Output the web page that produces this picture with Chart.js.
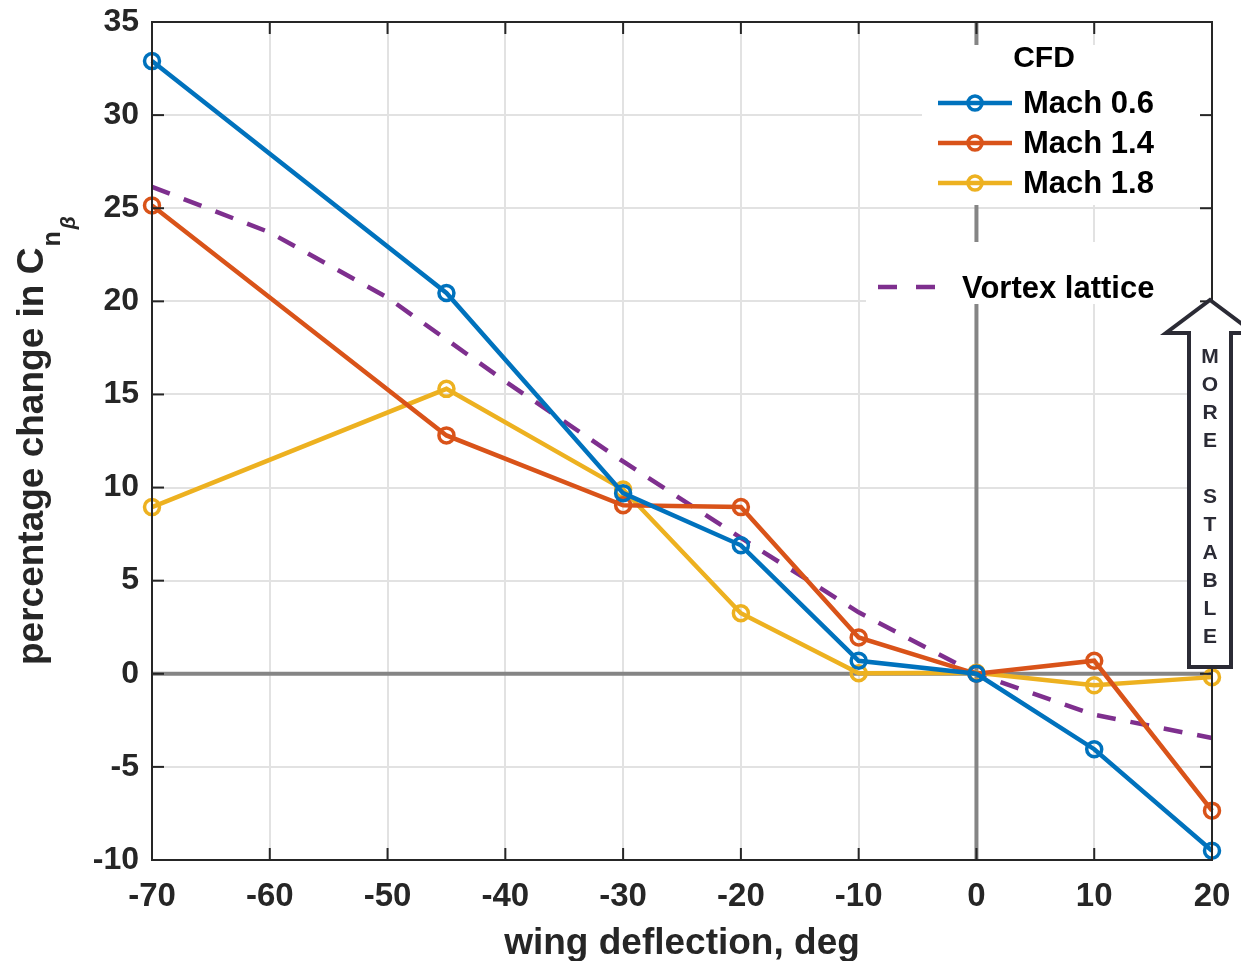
<!DOCTYPE html>
<html>
<head>
<meta charset="utf-8">
<script src="https://cdn.jsdelivr.net/npm/chart.js@4.4.1/dist/chart.umd.min.js"></script>
<style>
  html, body { margin: 0; padding: 0; background: #fff; }
  #wrap { width: 1241px; height: 961px; }
</style>
</head>
<body>
<div id="wrap"><canvas id="chartDeflection" width="1241" height="961"></canvas></div>
<script>
// CFD runs, wing deflection in deg
const deflection = [-70, -45, -30, -20, -10, 0, 10, 20];
const mach06 = [32.9, 20.45, 9.7, 6.9, 0.7, 0, -4.05, -9.5];
const mach14 = [25.15, 12.8, 9.05, 8.95, 1.95, 0, 0.7, -7.35];
const mach18 = [8.95, 15.3, 9.9, 3.25, 0.03, 0.05, -0.62, -0.18];

// vortex lattice prediction
const vlmDeflection = [-70, -60, -50, -40, -30, -20, -10, 0, 10, 20];
const vortexLattice = [26.15, 23.7, 20.2, 15.7, 11.4, 7.3, 3.3, 0, -2.2, -3.45];

const xTicks = [-70, -60, -50, -40, -30, -20, -10, 0, 10, 20];
const yTicks = [-10, -5, 0, 5, 10, 15, 20, 25, 30, 35];

const FONT = "'Liberation Sans', Arial, Helvetica, sans-serif";
const INK = "#262626";

function points(xs, ys) {
  return xs.map((x, i) => ({ x: x, y: ys[i] }));
}

function cfdSeries(label, values, color) {
  return {
    label: label,
    data: points(deflection, values),
    borderColor: color,
    backgroundColor: color,
    borderWidth: 4.5,
    pointRadius: 7.5,
    pointBorderWidth: 3.5,
    pointBackgroundColor: "rgba(0,0,0,0)",
    pointBorderColor: color,
    tension: 0,
    clip: false,
  };
}

const dataDeflection = {
  datasets: [
    cfdSeries("Mach 0.6", mach06, "#0072BD"),
    cfdSeries("Mach 1.4", mach14, "#D95319"),
    cfdSeries("Mach 1.8", mach18, "#EDB120"),
    {
      label: "Vortex lattice",
      data: points(vlmDeflection, vortexLattice),
      borderColor: "#7E2F8E",
      borderWidth: 4.5,
      borderDash: [19, 15],
      pointRadius: 0,
      tension: 0,
      clip: false,
    },
  ],
};

function strokeLine(ctx, x1, y1, x2, y2) {
  ctx.beginPath();
  ctx.moveTo(x1, y1);
  ctx.lineTo(x2, y2);
  ctx.stroke();
}

// gray zero lines under the data
const zeroLines = {
  id: "zeroLines",
  beforeDatasetsDraw(chart) {
    const { ctx, chartArea: a, scales } = chart;
    const x0 = scales.x.getPixelForValue(0);
    const y0 = scales.y.getPixelForValue(0);
    ctx.save();
    ctx.strokeStyle = "#858585";
    ctx.lineWidth = 4;
    strokeLine(ctx, a.left, y0, a.right, y0);
    strokeLine(ctx, x0, a.top, x0, a.bottom);
    ctx.restore();
  },
};

// legends, axes box with inward ticks, and the stability arrow
const overlay = {
  id: "overlay",
  afterDatasetsDraw(chart) {
    const { ctx, chartArea: a, scales } = chart;
    const ds = chart.data.datasets;
    ctx.save();

    // legend backgrounds
    ctx.fillStyle = "#fff";
    ctx.fillRect(922, 45, 288, 160);
    ctx.fillRect(866, 242, 344, 62);

    // axes box
    ctx.strokeStyle = INK;
    ctx.lineWidth = 2;
    ctx.strokeRect(a.left, a.top, a.right - a.left, a.bottom - a.top);
    const tl = 12;
    scales.x.ticks.forEach((t) => {
      const px = scales.x.getPixelForValue(t.value);
      strokeLine(ctx, px, a.bottom, px, a.bottom - tl);
      strokeLine(ctx, px, a.top, px, a.top + tl);
    });
    scales.y.ticks.forEach((t) => {
      const py = scales.y.getPixelForValue(t.value);
      strokeLine(ctx, a.left, py, a.left + tl, py);
      strokeLine(ctx, a.right, py, a.right - tl, py);
    });

    // CFD legend
    ctx.fillStyle = "#000";
    ctx.textAlign = "center";
    ctx.textBaseline = "alphabetic";
    ctx.font = "bold 30px " + FONT;
    ctx.fillText("CFD", 1044, 67);
    ctx.font = "bold 31px " + FONT;
    ctx.textAlign = "left";
    for (let i = 0; i < 3; i++) {
      const y = 103 + i * 40;
      const d = ds[i];
      ctx.strokeStyle = d.borderColor;
      ctx.lineWidth = 4.5;
      strokeLine(ctx, 938, y, 1012, y);
      ctx.lineWidth = 3.5;
      ctx.beginPath();
      ctx.arc(975, y, 7, 0, Math.PI * 2);
      ctx.stroke();
      ctx.fillStyle = "#000";
      ctx.fillText(d.label, 1023, y + 10);
    }

    // vortex lattice legend
    const v = ds[3];
    ctx.strokeStyle = v.borderColor;
    ctx.lineWidth = 4.5;
    ctx.setLineDash([19, 19]);
    strokeLine(ctx, 878, 287, 938, 287);
    ctx.setLineDash([]);
    ctx.fillText(v.label, 962, 298);

    // "more stable" arrow
    ctx.beginPath();
    ctx.moveTo(1210, 300);
    ctx.lineTo(1254, 333);
    ctx.lineTo(1231, 333);
    ctx.lineTo(1231, 667);
    ctx.lineTo(1189, 667);
    ctx.lineTo(1189, 333);
    ctx.lineTo(1166, 333);
    ctx.closePath();
    ctx.fillStyle = "#fff";
    ctx.fill();
    ctx.strokeStyle = "#2b2b35";
    ctx.lineWidth = 4;
    ctx.lineJoin = "miter";
    ctx.stroke();
    ctx.fillStyle = "#2b2b35";
    ctx.font = "bold 21px " + FONT;
    ctx.textAlign = "center";
    ctx.textBaseline = "middle";
    const word = "MORE STABLE";
    for (let i = 0; i < word.length; i++) {
      if (word[i] !== " ") ctx.fillText(word[i], 1210, 357 + i * 28);
    }
    ctx.restore();
  },
  afterDraw(chart) {
    // y axis title with subscripts
    const ctx = chart.ctx;
    ctx.save();
    ctx.translate(43, 665);
    ctx.rotate(-Math.PI / 2);
    ctx.fillStyle = INK;
    ctx.textAlign = "left";
    ctx.textBaseline = "alphabetic";
    ctx.font = "bold 37px " + FONT;
    const main = "percentage change in C";
    ctx.fillText(main, 0, 0);
    const w = ctx.measureText(main).width;
    ctx.font = "bold 25px " + FONT;
    ctx.fillText("n", w + 1, 17);
    const wn = ctx.measureText("n").width;
    ctx.font = "italic bold 21px " + FONT;
    ctx.fillText("\u03B2", w + wn + 3, 32);
    ctx.restore();
  },
};

const configDeflection = {
  type: "line",
  data: dataDeflection,
  options: {
    responsive: false,
    animation: false,
    devicePixelRatio: 1,
    layout: { padding: { top: 22, right: 29, bottom: 0, left: 0 } },
    plugins: {
      legend: { display: false },
      tooltip: { enabled: false },
    },
    scales: {
      x: {
        type: "linear",
        min: -70,
        max: 20,
        afterBuildTicks: (s) => { s.ticks = xTicks.map((v) => ({ value: v })); },
        afterFit: (s) => {
          s.height = 101;
          s.paddingLeft = 0;
          s.paddingRight = 0;
        },
        grid: { color: "#e2e2e2", lineWidth: 2, drawTicks: false },
        border: { display: false },
        ticks: {
          autoSkip: false,
          maxRotation: 0,
          padding: 17,
          color: INK,
          font: { family: FONT, size: 33, weight: "bold" },
        },
        title: {
          display: true,
          text: "wing deflection, deg",
          color: INK,
          padding: { top: 0, bottom: -5 },
          font: { family: FONT, size: 37, weight: "bold" },
        },
      },
      y: {
        type: "linear",
        min: -10,
        max: 35,
        afterBuildTicks: (s) => { s.ticks = yTicks.map((v) => ({ value: v })); },
        afterFit: (s) => {
          s.width = 152;
          s.paddingTop = 0;
          s.paddingBottom = 0;
        },
        grid: { color: "#e2e2e2", lineWidth: 2, drawTicks: false },
        border: { display: false },
        ticks: {
          autoSkip: false,
          padding: 13,
          color: INK,
          font: { family: FONT, size: 32, weight: "bold" },
        },
      },
    },
  },
  plugins: [zeroLines, overlay],
};

let chartDeflection = new Chart(
  document.getElementById("chartDeflection"),
  configDeflection
);
</script>
</body>
</html>
